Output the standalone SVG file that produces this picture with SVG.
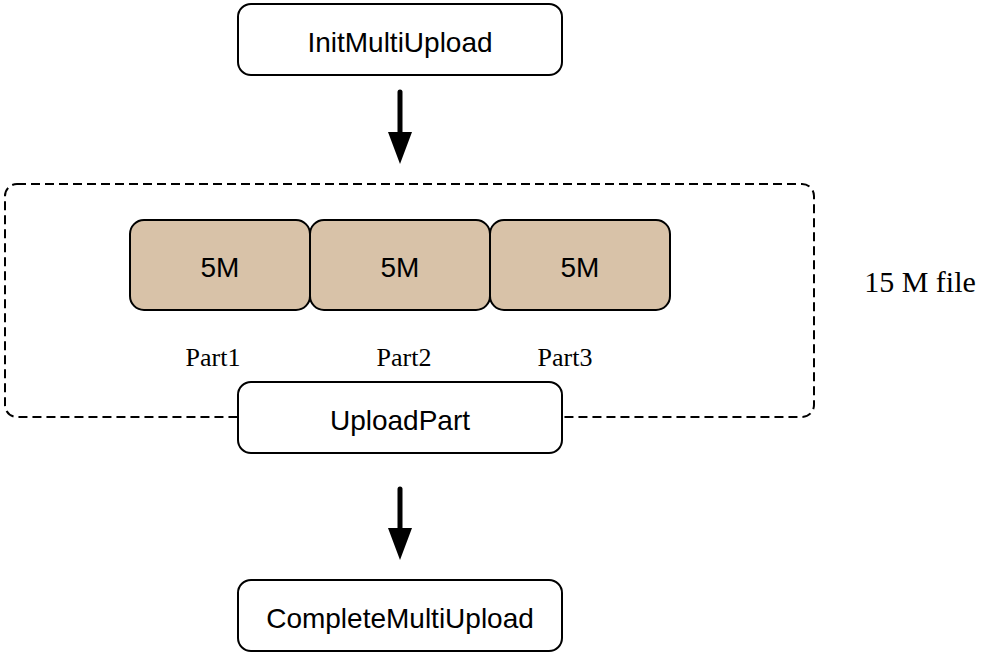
<svg xmlns="http://www.w3.org/2000/svg" width="992" height="656" viewBox="0 0 992 656">
<defs>
<style>
.box{fill:#fff;stroke:#000;stroke-width:2}
.part{fill:#d8c2a8;stroke:#000;stroke-width:2}
.t{font-family:"Liberation Sans",Arial,sans-serif;font-size:28px;fill:#000;text-anchor:middle}
.s{font-family:"Liberation Serif","Times New Roman",serif;font-size:26px;fill:#000;text-anchor:middle}
.conn{stroke:#000;stroke-width:5;fill:none}
</style>
</defs>
<rect id="frame" x="5" y="184" width="809" height="233" rx="12" fill="none" stroke="#000" stroke-width="2" stroke-dasharray="9 5"/>
<g id="init"><rect class="box" x="238" y="4" width="324" height="71" rx="13"/><text class="t" x="400" y="51.5">InitMultiUpload</text></g>
<g id="p1"><rect class="part" x="130" y="220" width="180" height="90" rx="14"/><text class="t" x="220" y="276.5">5M</text></g>
<g id="p2"><rect class="part" x="310" y="220" width="180" height="90" rx="14"/><text class="t" x="400" y="276.5">5M</text></g>
<g id="p3"><rect class="part" x="490" y="220" width="180" height="90" rx="14"/><text class="t" x="580" y="276.5">5M</text></g>
<text class="s" x="213" y="366">Part1</text>
<text class="s" x="404" y="366">Part2</text>
<text class="s" x="565" y="366">Part3</text>
<text class="s" x="920" y="291.5" style="font-size:30px">15 M file</text>
<g id="upload"><rect class="box" x="238" y="382" width="324" height="71" rx="13"/><text class="t" x="400" y="429.5">UploadPart</text></g>
<g id="complete"><rect class="box" x="238" y="580" width="324" height="71" rx="13"/><text class="t" x="400" y="627.5">CompleteMultiUpload</text></g>
<g id="connectors">
<line class="conn" x1="400" y1="92" x2="400" y2="134" stroke-linecap="round"/>
<polygon points="388,132 412,132 400,164" fill="#000"/>
<line class="conn" x1="400" y1="489" x2="400" y2="530" stroke-linecap="round"/>
<polygon points="388,528 412,528 400,560" fill="#000"/>
</g>
</svg>
